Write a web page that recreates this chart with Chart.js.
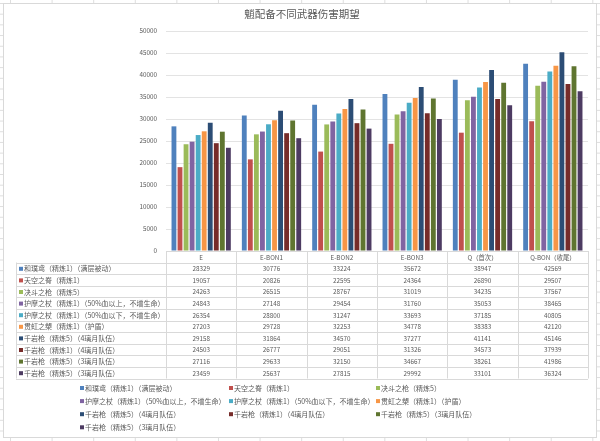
<!DOCTYPE html>
<html>
<head>
<meta charset="utf-8">
<script src="https://cdn.jsdelivr.net/npm/chart.js@4"></script>
<style>
  body {
    margin: 0; width: 600px; height: 441px; overflow: hidden; background-color: #fff;
    background-image: linear-gradient(to right, #dedede 1px, transparent 1px), linear-gradient(to bottom, #dedede 1px, transparent 1px);
    background-size: 41.6px 10.7px; background-position: 10px 3px;
  }
  canvas { display: block; }
</style>
</head>
<body>
<canvas id="myChart" width="600" height="441"></canvas>
<script>
var chartTitle = '魈配备不同武器伤害期望';
var categories = ['E', 'E-BON1', 'E-BON2', 'E-BON3', 'Q（首次）', 'Q-BON（收尾）'];
var yTicks = [0, 5000, 10000, 15000, 20000, 25000, 30000, 35000, 40000, 45000, 50000];

var seriesNames = [
    '和璞鸢（精炼1）（满层被动）',
    '天空之脊（精炼1）',
    '决斗之枪（精炼5）',
    '护摩之杖（精炼1）（50%血以上，不增生命）',
    '护摩之杖（精炼1）（50%血以下，不增生命）',
    '贯虹之槊（精炼1）（护盾）',
    '千岩枪（精炼5）（4璃月队伍）',
    '千岩枪（精炼1）（4璃月队伍）',
    '千岩枪（精炼5）（3璃月队伍）',
    '千岩枪（精炼5）（3璃月队伍）'
];
var hepuyuan = [28329, 30776, 33224, 35672, 38947, 42569];
var tiankong = [19057, 20826, 22595, 24364, 26890, 29507];
var juedou = [24263, 26515, 28767, 31019, 34235, 37567];
var humoHigh = [24843, 27148, 29454, 31760, 35053, 38465];
var humoLow = [26354, 28800, 31247, 33693, 37185, 40805];
var guanhong = [27203, 29728, 32253, 34778, 38383, 42120];
var qianyanR5L4 = [29158, 31864, 34570, 37277, 41141, 45146];
var qianyanR1L4 = [24503, 26777, 29051, 31326, 34573, 37939];
var qianyanR5L3 = [27116, 29633, 32150, 34667, 38261, 41986];
var qianyanL3b = [23459, 25637, 27815, 29992, 33101, 36324];

var seriesValues = [hepuyuan, tiankong, juedou, humoHigh, humoLow, guanhong, qianyanR5L4, qianyanR1L4, qianyanR5L3, qianyanL3b];
var colors = ['#4F81BD', '#C0504D', '#9BBB59', '#8064A2', '#4BACC6', '#F79646', '#2C4D75', '#772C2A', '#5F7530', '#4D3B62'];

var CJK = '"Noto Sans CJK SC", "Noto Sans", sans-serif';
var TEXT = '#595959';
var LINE = '#d9d9d9';

Chart.defaults.font.family = CJK;
Chart.defaults.color = TEXT;

// white chart box with thin border, drawn under everything
var boxPlugin = {
    id: 'box',
    beforeDraw: function(chart) {
        var ctx = chart.ctx;
        ctx.save();
        ctx.fillStyle = '#fff';
        ctx.fillRect(3, 3, 593, 434);
        ctx.strokeStyle = LINE;
        ctx.lineWidth = 1;
        ctx.strokeRect(3.5, 3.5, 593, 434);
        ctx.restore();
    }
};

// data table under the plot, like Excel's "data table" option
var tablePlugin = {
    id: 'dataTable',
    afterDraw: function(chart) {
        var ctx = chart.ctx;
        var area = chart.chartArea;
        var xs = chart.scales.x;
        var sets = chart.data.datasets;
        var colW = area.width / categories.length;
        var top = area.bottom;
        var headH = 11.5, rowH = 11.6, left = 16;
        var bottom = top + headH + rowH * sets.length;

        ctx.save();
        ctx.strokeStyle = LINE;
        ctx.lineWidth = 1;
        ctx.beginPath();
        ctx.moveTo(area.left, Math.round(top) + 0.5);
        ctx.lineTo(area.right, Math.round(top) + 0.5);
        for (var r = 0; r <= sets.length; r++) {
            var y = Math.round(top + headH + r * rowH) + 0.5;
            ctx.moveTo(left, y);
            ctx.lineTo(area.right, y);
        }
        for (var c = 0; c <= categories.length; c++) {
            var xx = Math.round(area.left + c * colW) + 0.5;
            ctx.moveTo(xx, top);
            ctx.lineTo(xx, bottom);
        }
        ctx.moveTo(left + 0.5, top + headH);
        ctx.lineTo(left + 0.5, bottom);
        ctx.stroke();

        ctx.fillStyle = TEXT;
        ctx.textBaseline = 'middle';
        ctx.textAlign = 'center';
        ctx.font = '6.3px ' + CJK;
        categories.forEach(function(cat, i) {
            ctx.fillText(cat, xs.getPixelForValue(i), top + headH / 2 + 0.5);
        });
        sets.forEach(function(ds, r) {
            var yc = top + headH + r * rowH + rowH / 2 + 0.5;
            ctx.textAlign = 'center';
            ctx.font = '6.3px ' + CJK;
            ctx.fillStyle = TEXT;
            ds.data.forEach(function(v, i) {
                ctx.fillText(String(v), xs.getPixelForValue(i), yc);
            });
            ctx.fillStyle = ds.backgroundColor;
            ctx.fillRect(left + 3, yc - 2, 4, 4);
            ctx.fillStyle = TEXT;
            ctx.textAlign = 'left';
            ctx.font = '7px ' + CJK;
            ctx.fillText(ds.label, left + 8, yc);
        });
        ctx.restore();
    }
};

// legend in three aligned columns below the table
var legendPlugin = {
    id: 'gridLegend',
    afterDraw: function(chart) {
        var ctx = chart.ctx;
        var colX = [80, 229, 376];
        var y0 = 388, step = 13.1;
        ctx.save();
        ctx.textBaseline = 'middle';
        ctx.textAlign = 'left';
        ctx.font = '7px ' + CJK;
        chart.data.datasets.forEach(function(ds, i) {
            var x = colX[i % 3];
            var y = y0 + Math.floor(i / 3) * step;
            ctx.fillStyle = ds.backgroundColor;
            ctx.fillRect(x, y - 2, 4, 4);
            ctx.fillStyle = TEXT;
            ctx.fillText(ds.label, x + 5, y);
        });
        ctx.restore();
    }
};

var ctx = document.getElementById('myChart').getContext('2d');
var myChart = new Chart(ctx, {
    type: 'bar',
    data: {
        labels: categories,
        datasets: seriesNames.map(function(name, i) {
            return {
                label: name,
                data: seriesValues[i],
                backgroundColor: colors[i],
                borderWidth: 0,
                categoryPercentage: 0.86,
                barPercentage: 0.8
            };
        })
    },
    options: {
        responsive: false,
        animation: false,
        devicePixelRatio: 1,
        layout: { padding: { left: 16, right: 12, top: 4, bottom: 190 } },
        scales: {
            x: { display: false },
            y: {
                min: 0,
                max: 50000,
                afterFit: function(scale) { scale.width = 150; },
                afterBuildTicks: function(scale) {
                    scale.ticks = yTicks.map(function(v) { return { value: v }; });
                },
                grid: { color: '#e3e3e3', drawTicks: false },
                border: { display: false },
                ticks: {
                    padding: 9,
                    color: TEXT,
                    font: { size: 6.3 },
                    callback: function(value) { return String(value); }
                }
            }
        },
        plugins: {
            legend: { display: false },
            tooltip: { enabled: false },
            title: {
                display: true,
                text: chartTitle,
                color: TEXT,
                font: { size: 10.5, weight: 'normal' },
                padding: { top: 4, bottom: 10.4 }
            }
        }
    },
    plugins: [boxPlugin, tablePlugin, legendPlugin]
});
</script>
</body>
</html>
